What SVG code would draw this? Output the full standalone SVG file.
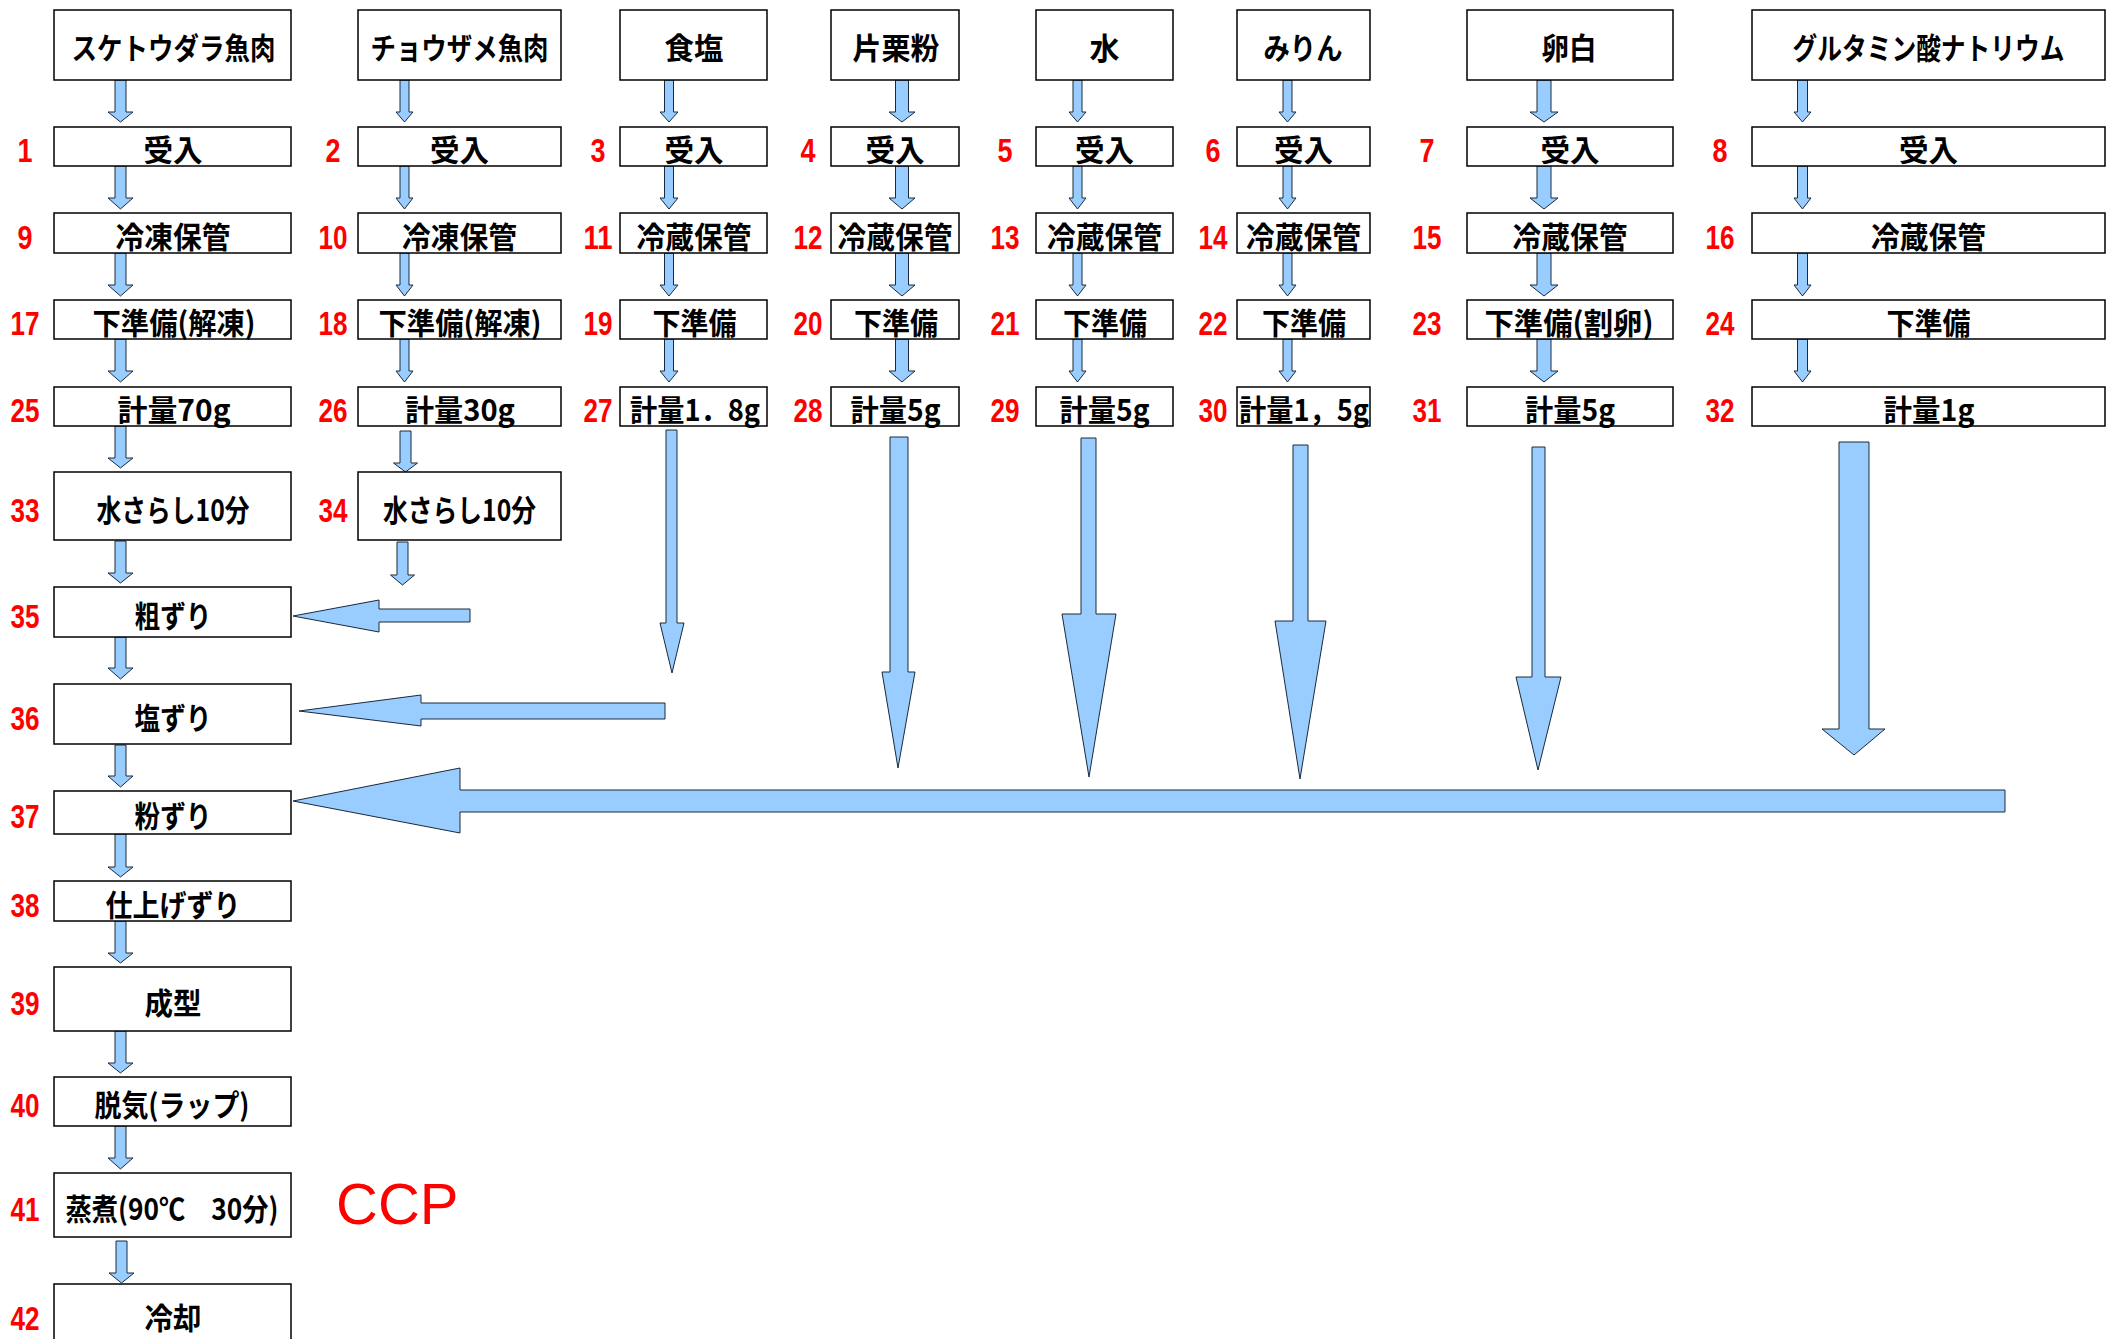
<svg xmlns="http://www.w3.org/2000/svg" width="2118" height="1339" viewBox="0 0 2118 1339">
<style>
.box{fill:#fff;stroke:#000;stroke-width:1.5}
.t{font-family:"Noto Sans CJK JP","Noto Sans CJK SC",sans-serif;font-weight:700;font-size:30px;text-anchor:middle;fill:#000}
.n{font-family:"Liberation Sans",Arial,sans-serif;font-weight:700;font-size:34px;text-anchor:middle;fill:#f00}
.a{fill:#99ccff;stroke:#1a2a3a;stroke-width:1;stroke-linejoin:miter}
.ccp{font-family:"Liberation Sans",Arial,sans-serif;font-size:58px;fill:#f00}
</style>
<rect width="2118" height="1339" fill="#fff"/>
<g id="connectors">
<polygon class="a" points="115,80 126,80 126,112 133,112 120.5,122 108,112 115,112"/>
<polygon class="a" points="115,166 126,166 126,198 133,198 120.5,209 108,198 115,198"/>
<polygon class="a" points="115,253 126,253 126,285 133,285 120.5,296 108,285 115,285"/>
<polygon class="a" points="115,339 126,339 126,371 133,371 120.5,382 108,371 115,371"/>
<polygon class="a" points="115,426 126,426 126,458 133,458 120.5,468 108,458 115,458"/>
<polygon class="a" points="115,541 126,541 126,573 133,573 120.5,583 108,573 115,573"/>
<polygon class="a" points="115,637 126,637 126,668 133,668 120.5,679 108,668 115,668"/>
<polygon class="a" points="115,745 126,745 126,776 133,776 120.5,787 108,776 115,776"/>
<polygon class="a" points="115,834 126,834 126,867 133,867 120.5,877 108,867 115,867"/>
<polygon class="a" points="115,921 126,921 126,953 133,953 120.5,963 108,953 115,953"/>
<polygon class="a" points="115,1031 126,1031 126,1063 133,1063 120.5,1073 108,1063 115,1063"/>
<polygon class="a" points="115,1126 126,1126 126,1158 133,1158 120.5,1169 108,1158 115,1158"/>
<polygon class="a" points="116,1241 127,1241 127,1273 134,1273 121.5,1283 109,1273 116,1273"/>
<polygon class="a" points="400,80 409,80 409,112 413,112 404.5,122 396,112 400,112"/>
<polygon class="a" points="400,166 409,166 409,198 413,198 404.5,209 396,198 400,198"/>
<polygon class="a" points="400,253 409,253 409,285 413,285 404.5,296 396,285 400,285"/>
<polygon class="a" points="400,339 409,339 409,371 413,371 404.5,382 396,371 400,371"/>
<polygon class="a" points="400,431 411,431 411,463 417.5,463 405.5,472 393.5,463 400,463"/>
<polygon class="a" points="397,542 408,542 408,575 414.5,575 402.5,585 390.5,575 397,575"/>
<polygon class="a" points="664.5,80 673.5,80 673.5,112 678,112 669,122 660,112 664.5,112"/>
<polygon class="a" points="664.5,166 673.5,166 673.5,198 678,198 669,209 660,198 664.5,198"/>
<polygon class="a" points="664.5,253 673.5,253 673.5,285 678,285 669,296 660,285 664.5,285"/>
<polygon class="a" points="664.5,339 673.5,339 673.5,371 678,371 669,382 660,371 664.5,371"/>
<polygon class="a" points="895.5,80 908.5,80 908.5,112 915,112 902,122 889,112 895.5,112"/>
<polygon class="a" points="895.5,166 908.5,166 908.5,198 915,198 902,209 889,198 895.5,198"/>
<polygon class="a" points="895.5,253 908.5,253 908.5,285 915,285 902,296 889,285 895.5,285"/>
<polygon class="a" points="895.5,339 908.5,339 908.5,371 915,371 902,382 889,371 895.5,371"/>
<polygon class="a" points="1073,80 1082,80 1082,112 1086,112 1077.5,122 1069,112 1073,112"/>
<polygon class="a" points="1073,166 1082,166 1082,198 1086,198 1077.5,209 1069,198 1073,198"/>
<polygon class="a" points="1073,253 1082,253 1082,285 1086,285 1077.5,296 1069,285 1073,285"/>
<polygon class="a" points="1073,339 1082,339 1082,371 1086,371 1077.5,382 1069,371 1073,371"/>
<polygon class="a" points="1283,80 1292,80 1292,112 1296,112 1287.5,122 1279,112 1283,112"/>
<polygon class="a" points="1283,166 1292,166 1292,198 1296,198 1287.5,209 1279,198 1283,198"/>
<polygon class="a" points="1283,253 1292,253 1292,285 1296,285 1287.5,296 1279,285 1283,285"/>
<polygon class="a" points="1283,339 1292,339 1292,371 1296,371 1287.5,382 1279,371 1283,371"/>
<polygon class="a" points="1537,80 1551,80 1551,112 1558,112 1544,122 1530,112 1537,112"/>
<polygon class="a" points="1537,166 1551,166 1551,198 1558,198 1544,209 1530,198 1537,198"/>
<polygon class="a" points="1537,253 1551,253 1551,285 1558,285 1544,296 1530,285 1537,285"/>
<polygon class="a" points="1537,339 1551,339 1551,371 1558,371 1544,382 1530,371 1537,371"/>
<polygon class="a" points="1797.5,80 1807.5,80 1807.5,112 1811,112 1802.5,122 1794,112 1797.5,112"/>
<polygon class="a" points="1797.5,166 1807.5,166 1807.5,198 1811,198 1802.5,209 1794,198 1797.5,198"/>
<polygon class="a" points="1797.5,253 1807.5,253 1807.5,285 1811,285 1802.5,296 1794,285 1797.5,285"/>
<polygon class="a" points="1797.5,339 1807.5,339 1807.5,371 1811,371 1802.5,382 1794,371 1797.5,371"/>
<polygon class="a" points="666,430 677,430 677,623 684,623 672,673 660,623 666,623"/>
<polygon class="a" points="890,437 908,437 908,672 915,672 898,768 882,672 890,672"/>
<polygon class="a" points="1081,438 1096,438 1096,614 1116,614 1089,777 1062,614 1081,614"/>
<polygon class="a" points="1293,445 1308,445 1308,621 1326,621 1300,779 1275,621 1293,621"/>
<polygon class="a" points="1532,447 1545,447 1545,677 1561,677 1538,770 1516,677 1532,677"/>
<polygon class="a" points="1839,442 1869,442 1869,729 1885,729 1854,755 1822,729 1839,729"/>
<polygon class="a" points="470,609 470,622 379,622 379,632 293,616 379,600 379,609"/>
<polygon class="a" points="665,703 665,719 421,719 421,726 299,711 421,695 421,703"/>
<polygon class="a" points="2005,790 2005,812 460,812 460,833 293,801 460,768 460,790"/>
</g>

<g id="src1"><rect class="box" x="54" y="10" width="237" height="70"/><text class="t" x="173.5" y="59" textLength="204" lengthAdjust="spacingAndGlyphs">スケトウダラ魚肉</text></g>
<g id="src2"><rect class="box" x="358" y="10" width="203" height="70"/><text class="t" x="459.5" y="59" textLength="178" lengthAdjust="spacingAndGlyphs">チョウザメ魚肉</text></g>
<g id="src3"><rect class="box" x="620" y="10" width="147" height="70"/><text class="t" x="694" y="59" textLength="59" lengthAdjust="spacingAndGlyphs">食塩</text></g>
<g id="src4"><rect class="box" x="831" y="10" width="128" height="70"/><text class="t" x="896" y="59" textLength="87" lengthAdjust="spacingAndGlyphs">片栗粉</text></g>
<g id="src5"><rect class="box" x="1036" y="10" width="137" height="70"/><text class="t" x="1104.5" y="59" textLength="30" lengthAdjust="spacingAndGlyphs">水</text></g>
<g id="src6"><rect class="box" x="1237" y="10" width="133" height="70"/><text class="t" x="1303" y="59" textLength="79" lengthAdjust="spacingAndGlyphs">みりん</text></g>
<g id="src7"><rect class="box" x="1467" y="10" width="206" height="70"/><text class="t" x="1569" y="59" textLength="55" lengthAdjust="spacingAndGlyphs">卵白</text></g>
<g id="src8"><rect class="box" x="1752" y="10" width="353" height="70"/><text class="t" x="1928.5" y="59" textLength="272" lengthAdjust="spacingAndGlyphs">グルタミン酸ナトリウム</text></g>

<g id="n1"><text class="n" x="25" y="162" textLength="15" lengthAdjust="spacingAndGlyphs">1</text><rect class="box" x="54" y="127" width="237" height="39"/><text class="t" x="173" y="161" textLength="59" lengthAdjust="spacingAndGlyphs">受入</text></g>
<g id="n2"><text class="n" x="333" y="162" textLength="15" lengthAdjust="spacingAndGlyphs">2</text><rect class="box" x="358" y="127" width="203" height="39"/><text class="t" x="459.5" y="161" textLength="59" lengthAdjust="spacingAndGlyphs">受入</text></g>
<g id="n3"><text class="n" x="598" y="162" textLength="15" lengthAdjust="spacingAndGlyphs">3</text><rect class="box" x="620" y="127" width="147" height="39"/><text class="t" x="694" y="161" textLength="59" lengthAdjust="spacingAndGlyphs">受入</text></g>
<g id="n4"><text class="n" x="808" y="162" textLength="15" lengthAdjust="spacingAndGlyphs">4</text><rect class="box" x="831" y="127" width="128" height="39"/><text class="t" x="895" y="161" textLength="59" lengthAdjust="spacingAndGlyphs">受入</text></g>
<g id="n5"><text class="n" x="1005" y="162" textLength="15" lengthAdjust="spacingAndGlyphs">5</text><rect class="box" x="1036" y="127" width="137" height="39"/><text class="t" x="1104.5" y="161" textLength="59" lengthAdjust="spacingAndGlyphs">受入</text></g>
<g id="n6"><text class="n" x="1213" y="162" textLength="15" lengthAdjust="spacingAndGlyphs">6</text><rect class="box" x="1237" y="127" width="133" height="39"/><text class="t" x="1303.5" y="161" textLength="59" lengthAdjust="spacingAndGlyphs">受入</text></g>
<g id="n7"><text class="n" x="1427" y="162" textLength="15" lengthAdjust="spacingAndGlyphs">7</text><rect class="box" x="1467" y="127" width="206" height="39"/><text class="t" x="1570" y="161" textLength="59" lengthAdjust="spacingAndGlyphs">受入</text></g>
<g id="n8"><text class="n" x="1720" y="162" textLength="15" lengthAdjust="spacingAndGlyphs">8</text><rect class="box" x="1752" y="127" width="353" height="39"/><text class="t" x="1928.5" y="161" textLength="59" lengthAdjust="spacingAndGlyphs">受入</text></g>

<g id="n9"><text class="n" x="25" y="248.5" textLength="15" lengthAdjust="spacingAndGlyphs">9</text><rect class="box" x="54" y="213" width="237" height="40"/><text class="t" x="173" y="247.5" textLength="115" lengthAdjust="spacingAndGlyphs">冷凍保管</text></g>
<g id="n10"><text class="n" x="333" y="248.5" textLength="29" lengthAdjust="spacingAndGlyphs">10</text><rect class="box" x="358" y="213" width="203" height="40"/><text class="t" x="459.5" y="247.5" textLength="115" lengthAdjust="spacingAndGlyphs">冷凍保管</text></g>
<g id="n11"><text class="n" x="598" y="248.5" textLength="29" lengthAdjust="spacingAndGlyphs">11</text><rect class="box" x="620" y="213" width="147" height="40"/><text class="t" x="694" y="247.5" textLength="115" lengthAdjust="spacingAndGlyphs">冷蔵保管</text></g>
<g id="n12"><text class="n" x="808" y="248.5" textLength="29" lengthAdjust="spacingAndGlyphs">12</text><rect class="box" x="831" y="213" width="128" height="40"/><text class="t" x="895" y="247.5" textLength="115" lengthAdjust="spacingAndGlyphs">冷蔵保管</text></g>
<g id="n13"><text class="n" x="1005" y="248.5" textLength="29" lengthAdjust="spacingAndGlyphs">13</text><rect class="box" x="1036" y="213" width="137" height="40"/><text class="t" x="1104.5" y="247.5" textLength="115" lengthAdjust="spacingAndGlyphs">冷蔵保管</text></g>
<g id="n14"><text class="n" x="1213" y="248.5" textLength="29" lengthAdjust="spacingAndGlyphs">14</text><rect class="box" x="1237" y="213" width="133" height="40"/><text class="t" x="1303.5" y="247.5" textLength="115" lengthAdjust="spacingAndGlyphs">冷蔵保管</text></g>
<g id="n15"><text class="n" x="1427" y="248.5" textLength="29" lengthAdjust="spacingAndGlyphs">15</text><rect class="box" x="1467" y="213" width="206" height="40"/><text class="t" x="1570" y="247.5" textLength="115" lengthAdjust="spacingAndGlyphs">冷蔵保管</text></g>
<g id="n16"><text class="n" x="1720" y="248.5" textLength="29" lengthAdjust="spacingAndGlyphs">16</text><rect class="box" x="1752" y="213" width="353" height="40"/><text class="t" x="1928.5" y="247.5" textLength="115" lengthAdjust="spacingAndGlyphs">冷蔵保管</text></g>

<g id="n17"><text class="n" x="25" y="335" textLength="29" lengthAdjust="spacingAndGlyphs">17</text><rect class="box" x="54" y="300" width="237" height="39"/><text class="t" x="174" y="334" textLength="163" lengthAdjust="spacingAndGlyphs">下準備(解凍)</text></g>
<g id="n18"><text class="n" x="333" y="335" textLength="29" lengthAdjust="spacingAndGlyphs">18</text><rect class="box" x="358" y="300" width="203" height="39"/><text class="t" x="460" y="334" textLength="163" lengthAdjust="spacingAndGlyphs">下準備(解凍)</text></g>
<g id="n19"><text class="n" x="598" y="335" textLength="29" lengthAdjust="spacingAndGlyphs">19</text><rect class="box" x="620" y="300" width="147" height="39"/><text class="t" x="694.5" y="334" textLength="84" lengthAdjust="spacingAndGlyphs">下準備</text></g>
<g id="n20"><text class="n" x="808" y="335" textLength="29" lengthAdjust="spacingAndGlyphs">20</text><rect class="box" x="831" y="300" width="128" height="39"/><text class="t" x="896" y="334" textLength="84" lengthAdjust="spacingAndGlyphs">下準備</text></g>
<g id="n21"><text class="n" x="1005" y="335" textLength="29" lengthAdjust="spacingAndGlyphs">21</text><rect class="box" x="1036" y="300" width="137" height="39"/><text class="t" x="1105" y="334" textLength="84" lengthAdjust="spacingAndGlyphs">下準備</text></g>
<g id="n22"><text class="n" x="1213" y="335" textLength="29" lengthAdjust="spacingAndGlyphs">22</text><rect class="box" x="1237" y="300" width="133" height="39"/><text class="t" x="1304" y="334" textLength="84" lengthAdjust="spacingAndGlyphs">下準備</text></g>
<g id="n23"><text class="n" x="1427" y="335" textLength="29" lengthAdjust="spacingAndGlyphs">23</text><rect class="box" x="1467" y="300" width="206" height="39"/><text class="t" x="1569" y="334" textLength="169" lengthAdjust="spacingAndGlyphs">下準備(割卵)</text></g>
<g id="n24"><text class="n" x="1720" y="335" textLength="29" lengthAdjust="spacingAndGlyphs">24</text><rect class="box" x="1752" y="300" width="353" height="39"/><text class="t" x="1928.5" y="334" textLength="84" lengthAdjust="spacingAndGlyphs">下準備</text></g>

<g id="n25"><text class="n" x="25" y="422" textLength="29" lengthAdjust="spacingAndGlyphs">25</text><rect class="box" x="54" y="387" width="237" height="39"/><text class="t" x="174" y="421" textLength="113" lengthAdjust="spacingAndGlyphs">計量70g</text></g>
<g id="n26"><text class="n" x="333" y="422" textLength="29" lengthAdjust="spacingAndGlyphs">26</text><rect class="box" x="358" y="387" width="203" height="39"/><text class="t" x="460" y="421" textLength="110" lengthAdjust="spacingAndGlyphs">計量30g</text></g>
<g id="n27"><text class="n" x="598" y="422" textLength="29" lengthAdjust="spacingAndGlyphs">27</text><rect class="box" x="620" y="387" width="147" height="39"/><text class="t" x="695" y="421" textLength="130" lengthAdjust="spacingAndGlyphs">計量1．8g</text></g>
<g id="n28"><text class="n" x="808" y="422" textLength="29" lengthAdjust="spacingAndGlyphs">28</text><rect class="box" x="831" y="387" width="128" height="39"/><text class="t" x="895.5" y="421" textLength="90" lengthAdjust="spacingAndGlyphs">計量5g</text></g>
<g id="n29"><text class="n" x="1005" y="422" textLength="29" lengthAdjust="spacingAndGlyphs">29</text><rect class="box" x="1036" y="387" width="137" height="39"/><text class="t" x="1104.5" y="421" textLength="90" lengthAdjust="spacingAndGlyphs">計量5g</text></g>
<g id="n30"><text class="n" x="1213" y="422" textLength="29" lengthAdjust="spacingAndGlyphs">30</text><rect class="box" x="1237" y="387" width="133" height="39"/><text class="t" x="1304" y="421" textLength="130" lengthAdjust="spacingAndGlyphs">計量1，5g</text></g>
<g id="n31"><text class="n" x="1427" y="422" textLength="29" lengthAdjust="spacingAndGlyphs">31</text><rect class="box" x="1467" y="387" width="206" height="39"/><text class="t" x="1570" y="421" textLength="90" lengthAdjust="spacingAndGlyphs">計量5g</text></g>
<g id="n32"><text class="n" x="1720" y="422" textLength="29" lengthAdjust="spacingAndGlyphs">32</text><rect class="box" x="1752" y="387" width="353" height="39"/><text class="t" x="1929" y="421" textLength="91" lengthAdjust="spacingAndGlyphs">計量1g</text></g>

<g id="n33"><text class="n" x="25" y="521.5" textLength="29" lengthAdjust="spacingAndGlyphs">33</text><rect class="box" x="54" y="472" width="237" height="68"/><text class="t" x="173" y="520.5" textLength="153" lengthAdjust="spacingAndGlyphs">水さらし10分</text></g>
<g id="n34"><text class="n" x="333" y="521.5" textLength="29" lengthAdjust="spacingAndGlyphs">34</text><rect class="box" x="358" y="472" width="203" height="68"/><text class="t" x="459.5" y="520.5" textLength="153" lengthAdjust="spacingAndGlyphs">水さらし10分</text></g>
<g id="n35"><text class="n" x="25" y="627.5" textLength="29" lengthAdjust="spacingAndGlyphs">35</text><rect class="box" x="54" y="587" width="237" height="50"/><text class="t" x="173" y="626.5" textLength="77" lengthAdjust="spacingAndGlyphs">粗ずり</text></g>
<g id="n36"><text class="n" x="25" y="729.5" textLength="29" lengthAdjust="spacingAndGlyphs">36</text><rect class="box" x="54" y="684" width="237" height="60"/><text class="t" x="173" y="728.5" textLength="77" lengthAdjust="spacingAndGlyphs">塩ずり</text></g>
<g id="n37"><text class="n" x="25" y="828" textLength="29" lengthAdjust="spacingAndGlyphs">37</text><rect class="box" x="54" y="791" width="237" height="43"/><text class="t" x="173" y="827" textLength="77" lengthAdjust="spacingAndGlyphs">粉ずり</text></g>
<g id="n38"><text class="n" x="25" y="916.5" textLength="29" lengthAdjust="spacingAndGlyphs">38</text><rect class="box" x="54" y="881" width="237" height="40"/><text class="t" x="173" y="915.5" textLength="135" lengthAdjust="spacingAndGlyphs">仕上げずり</text></g>
<g id="n39"><text class="n" x="25" y="1014.5" textLength="29" lengthAdjust="spacingAndGlyphs">39</text><rect class="box" x="54" y="967" width="237" height="64"/><text class="t" x="173" y="1013.5" textLength="57" lengthAdjust="spacingAndGlyphs">成型</text></g>
<g id="n40"><text class="n" x="25" y="1117" textLength="29" lengthAdjust="spacingAndGlyphs">40</text><rect class="box" x="54" y="1077" width="237" height="49"/><text class="t" x="172" y="1116" textLength="155" lengthAdjust="spacingAndGlyphs">脱気(ラップ)</text></g>
<g id="n41"><text class="n" x="25" y="1220.5" textLength="29" lengthAdjust="spacingAndGlyphs">41</text><rect class="box" x="54" y="1173" width="237" height="64"/><text class="t" x="172" y="1219.5" textLength="213" lengthAdjust="spacingAndGlyphs">蒸煮(90℃　30分)</text></g>
<g id="n42"><text class="n" x="25" y="1330" textLength="29" lengthAdjust="spacingAndGlyphs">42</text><rect class="box" x="54" y="1284" width="237" height="64"/><text class="t" x="173" y="1329" textLength="57" lengthAdjust="spacingAndGlyphs">冷却</text></g>

<text class="ccp" x="336" y="1224">CCP</text>
</svg>
